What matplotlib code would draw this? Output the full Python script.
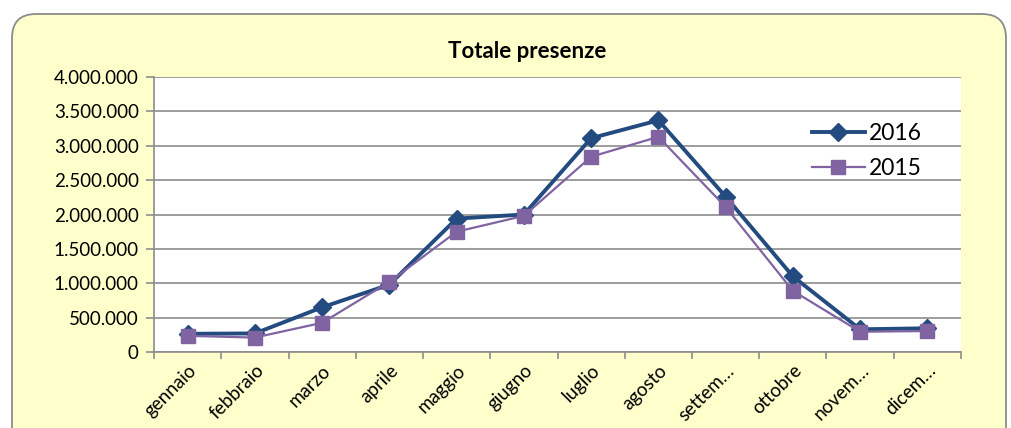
import matplotlib.pyplot as plt
from matplotlib.patches import FancyBboxPatch
from matplotlib.ticker import FuncFormatter, MultipleLocator

plt.rcParams['font.family'] = ['Lato', 'DejaVu Sans']

# dati
mesi = ['gennaio', 'febbraio', 'marzo', 'aprile', 'maggio', 'giugno',
        'luglio', 'agosto', 'settem…', 'ottobre', 'novem…', 'dicem…']
presenze_2016 = [265000, 270000, 650000, 980000, 1940000, 2000000,
                 3110000, 3370000, 2260000, 1100000, 330000, 345000]
presenze_2015 = [235000, 210000, 425000, 1020000, 1750000, 1980000,
                 2840000, 3130000, 2110000, 890000, 295000, 305000]

fig = plt.figure(figsize=(10.12, 4.28), dpi=100)
fig.patch.set_facecolor('white')

# cornice arrotondata gialla (assi di sfondo in pixel)
bg_ax = fig.add_axes([0, 0, 1, 1], zorder=-1)
bg_ax.set_xlim(0, 1012)
bg_ax.set_ylim(428, 0)
bg_ax.axis('off')
bg_ax.add_patch(FancyBboxPatch((12, 14), 994, 460,
                               boxstyle='round,pad=0,rounding_size=24',
                               facecolor='#FFFFCC', edgecolor='#8C8C8C',
                               linewidth=1.3))

ax = fig.add_axes([154 / 1012, 1 - 352 / 428, (961 - 154) / 1012, (352 - 77) / 428])
ax.set_facecolor('white')

x = list(range(len(mesi)))
ax.plot(x, presenze_2016, color='#234B7F', linewidth=2.8, marker='D',
        markersize=9.5, label='2016', zorder=3)
ax.plot(x, presenze_2015, color='#8064A2', linewidth=1.6, marker='s',
        markersize=9.5, label='2015', zorder=4)

ax.set_xlim(-0.5, 11.5)
ax.set_ylim(0, 4000000)
ax.yaxis.set_major_locator(MultipleLocator(500000))
ax.yaxis.set_major_formatter(FuncFormatter(lambda v, p: f'{int(v):,}'.replace(',', '.')))
ax.grid(axis='y', color='#8C8C8C', linewidth=1.2)
ax.set_axisbelow(True)

ax.set_xticks(x)
ax.set_xticklabels(mesi, rotation=45, ha='right', rotation_mode='anchor')
ax.set_xticks([i - 0.5 for i in range(len(mesi) + 1)], minor=True)
ax.tick_params(axis='x', which='major', length=0, pad=7, labelsize=13.5)
ax.tick_params(axis='x', which='minor', length=5, color='#8C8C8C', width=1.2)
ax.tick_params(axis='y', length=6, color='#8C8C8C', width=1.2, labelsize=13.5, pad=5)

for side in ['top', 'right']:
    ax.spines[side].set_visible(False)
for side in ['left', 'bottom']:
    ax.spines[side].set_color('#8C8C8C')
    ax.spines[side].set_linewidth(1.2)

fig.text(527 / 1012, 1 - 52 / 428, 'Totale presenze', ha='center', va='center',
         fontsize=16, fontweight='bold')

ax.legend(loc='upper left', bbox_to_anchor=(812 / 1012, 1 - 123 / 428),
          bbox_transform=fig.transFigure, frameon=False,
          fontsize=16.5, handlelength=2.3, handletextpad=0.2, labelspacing=0.62,
          borderpad=0, borderaxespad=0)

fig.savefig('out.png', dpi=100)
